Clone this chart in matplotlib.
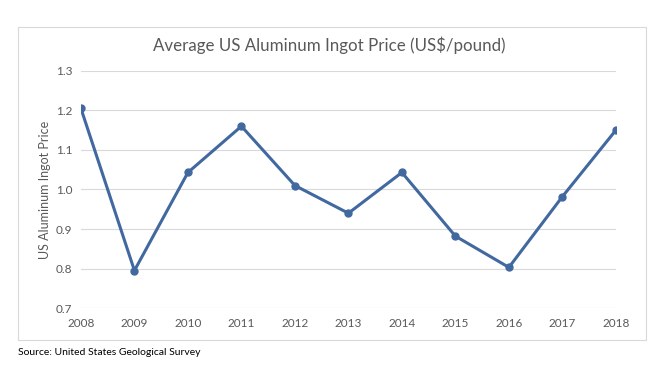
import matplotlib.pyplot as plt
from matplotlib.patches import Rectangle

plt.rcParams['font.family'] = ['Lato', 'DejaVu Sans']

# values
years = [2008, 2009, 2010, 2011, 2012, 2013, 2014, 2015, 2016, 2017, 2018]
price = [1.205, 0.795, 1.043, 1.160, 1.010, 0.940, 1.043, 0.882, 0.803, 0.982, 1.150]
yticks = [0.7, 0.8, 0.9, 1.0, 1.1, 1.2, 1.3]

grey = '#595959'
blue = '#41699F'

fig = plt.figure(figsize=(6.58, 3.73), dpi=100)

# chart area frame
fig.patches.append(Rectangle((0.027, 0.088), 0.955, 0.840, transform=fig.transFigure,
                             fill=False, edgecolor='#D9D9D9', linewidth=0.8))

ax = fig.add_axes([0.123, 0.174, 0.813, 0.636])
ax.plot(years, price, color=blue, linewidth=2.2, marker='o', markersize=5,
        solid_joinstyle='round', zorder=3)

ax.set_xlim(2008, 2018)
ax.set_ylim(0.7, 1.3)
ax.set_xticks(years)
ax.set_yticks(yticks)
ax.set_yticklabels(['%.1f' % v for v in yticks])
ax.grid(axis='y', color='#D9D9D9', linewidth=0.8)
for s in ax.spines.values():
    s.set_visible(False)
ax.tick_params(length=0, labelsize=8.5, colors=grey, pad=6)
ax.tick_params(axis='x', pad=7)
ax.set_ylabel('US Aluminum Ingot Price', fontsize=9, color=grey, labelpad=4)

fig.text(0.50, 0.879, 'Average US Aluminum Ingot Price (US$/pound)', ha='center', va='center',
         fontsize=12.2, color=grey)
fig.text(0.027, 0.056, 'Source: United States Geological Survey', ha='left', va='center',
         fontsize=7.5, color='black')

fig.savefig('out.png', dpi=100)
